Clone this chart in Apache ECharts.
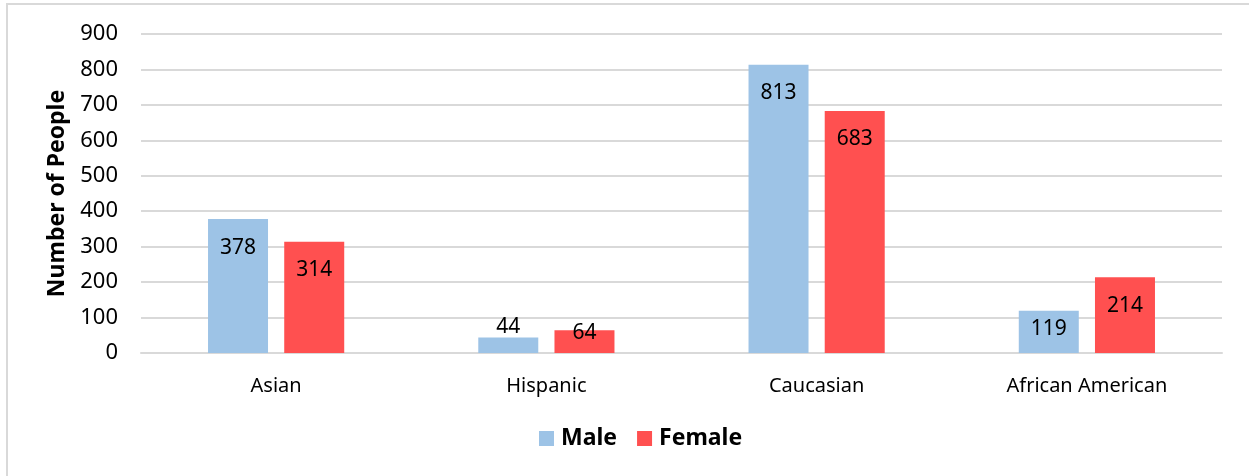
<!DOCTYPE html>
<html>
<head>
<meta charset="utf-8">
<script src="https://cdn.jsdelivr.net/npm/echarts@6/dist/echarts.min.js"></script>
<style>
  html, body { margin: 0; padding: 0; background: #fff; }
  #main { width: 1249px; height: 476px; }
</style>
</head>
<body>
<div id="main"></div>
<script type="text/javascript">
  var categories = ['Asian', 'Hispanic', 'Caucasian', 'African American'];
  var maleValues = [378, 44, 813, 119];
  var femaleValues = [314, 64, 683, 214];
  var yTicks = [0, 100, 200, 300, 400, 500, 600, 700, 800, 900];

  var FONT = 'Noto Sans';

  // excel puts small bars' labels in odd places, mimic it per item
  function buildData(values, special) {
    return values.map(function (v, i) {
      var item = { value: v };
      if (special[i]) item.label = special[i];
      return item;
    });
  }

  var maleData = buildData(maleValues, {
    1: { position: 'top', distance: 0 },
    3: { position: 'insideTop', distance: 8 }
  });
  var femaleData = buildData(femaleValues, {
    1: { position: 'top', distance: -13 }
  });

  var barLabel = {
    show: true,
    position: 'insideTop',
    distance: 18,
    color: '#000',
    fontFamily: FONT,
    fontSize: 21
  };

  var chart = echarts.init(document.getElementById('main'));
  chart.setOption({
    animation: false,
    graphic: [{
      type: 'rect',
      shape: { x: 7, y: 4, width: 1300, height: 600 },
      style: { fill: 'none', stroke: '#d9d9d9', lineWidth: 2 },
      silent: true
    }],
    grid: { left: 141, right: 27, top: 34, bottom: 123, containLabel: false },
    legend: {
      data: ['Male', 'Female'],
      bottom: 21,
      left: 534,
      icon: 'rect',
      itemWidth: 15,
      itemHeight: 15,
      itemGap: 20,
      textStyle: { fontFamily: FONT, fontSize: 23, fontWeight: 'bold', color: '#000', padding: [0, 0, 0, 2] }
    },
    xAxis: {
      type: 'category',
      data: categories,
      axisTick: { show: false },
      axisLine: { lineStyle: { color: '#d9d9d9', width: 2 } },
      axisLabel: { fontFamily: FONT, fontSize: 20, color: '#000', margin: 23 }
    },
    yAxis: {
      type: 'value',
      min: yTicks[0],
      max: yTicks[yTicks.length - 1],
      interval: yTicks[1] - yTicks[0],
      name: 'Number of People',
      nameLocation: 'middle',
      nameGap: 70,
      nameTextStyle: { fontFamily: FONT, fontSize: 23, fontWeight: 'bold', color: '#000' },
      axisLine: { show: false },
      axisTick: { show: false },
      splitLine: { lineStyle: { color: '#d9d9d9', width: 2 } },
      axisLabel: { fontFamily: FONT, fontSize: 22, color: '#000', margin: 23 }
    },
    series: [{
      name: 'Male',
      type: 'bar',
      data: maleData,
      barWidth: 60,
      barGap: '27%',
      itemStyle: { color: '#9dc3e6' },
      label: barLabel
    }, {
      name: 'Female',
      type: 'bar',
      data: femaleData,
      barWidth: 60,
      itemStyle: { color: '#ff5050' },
      label: barLabel
    }]
  });
</script>
</body>
</html>
